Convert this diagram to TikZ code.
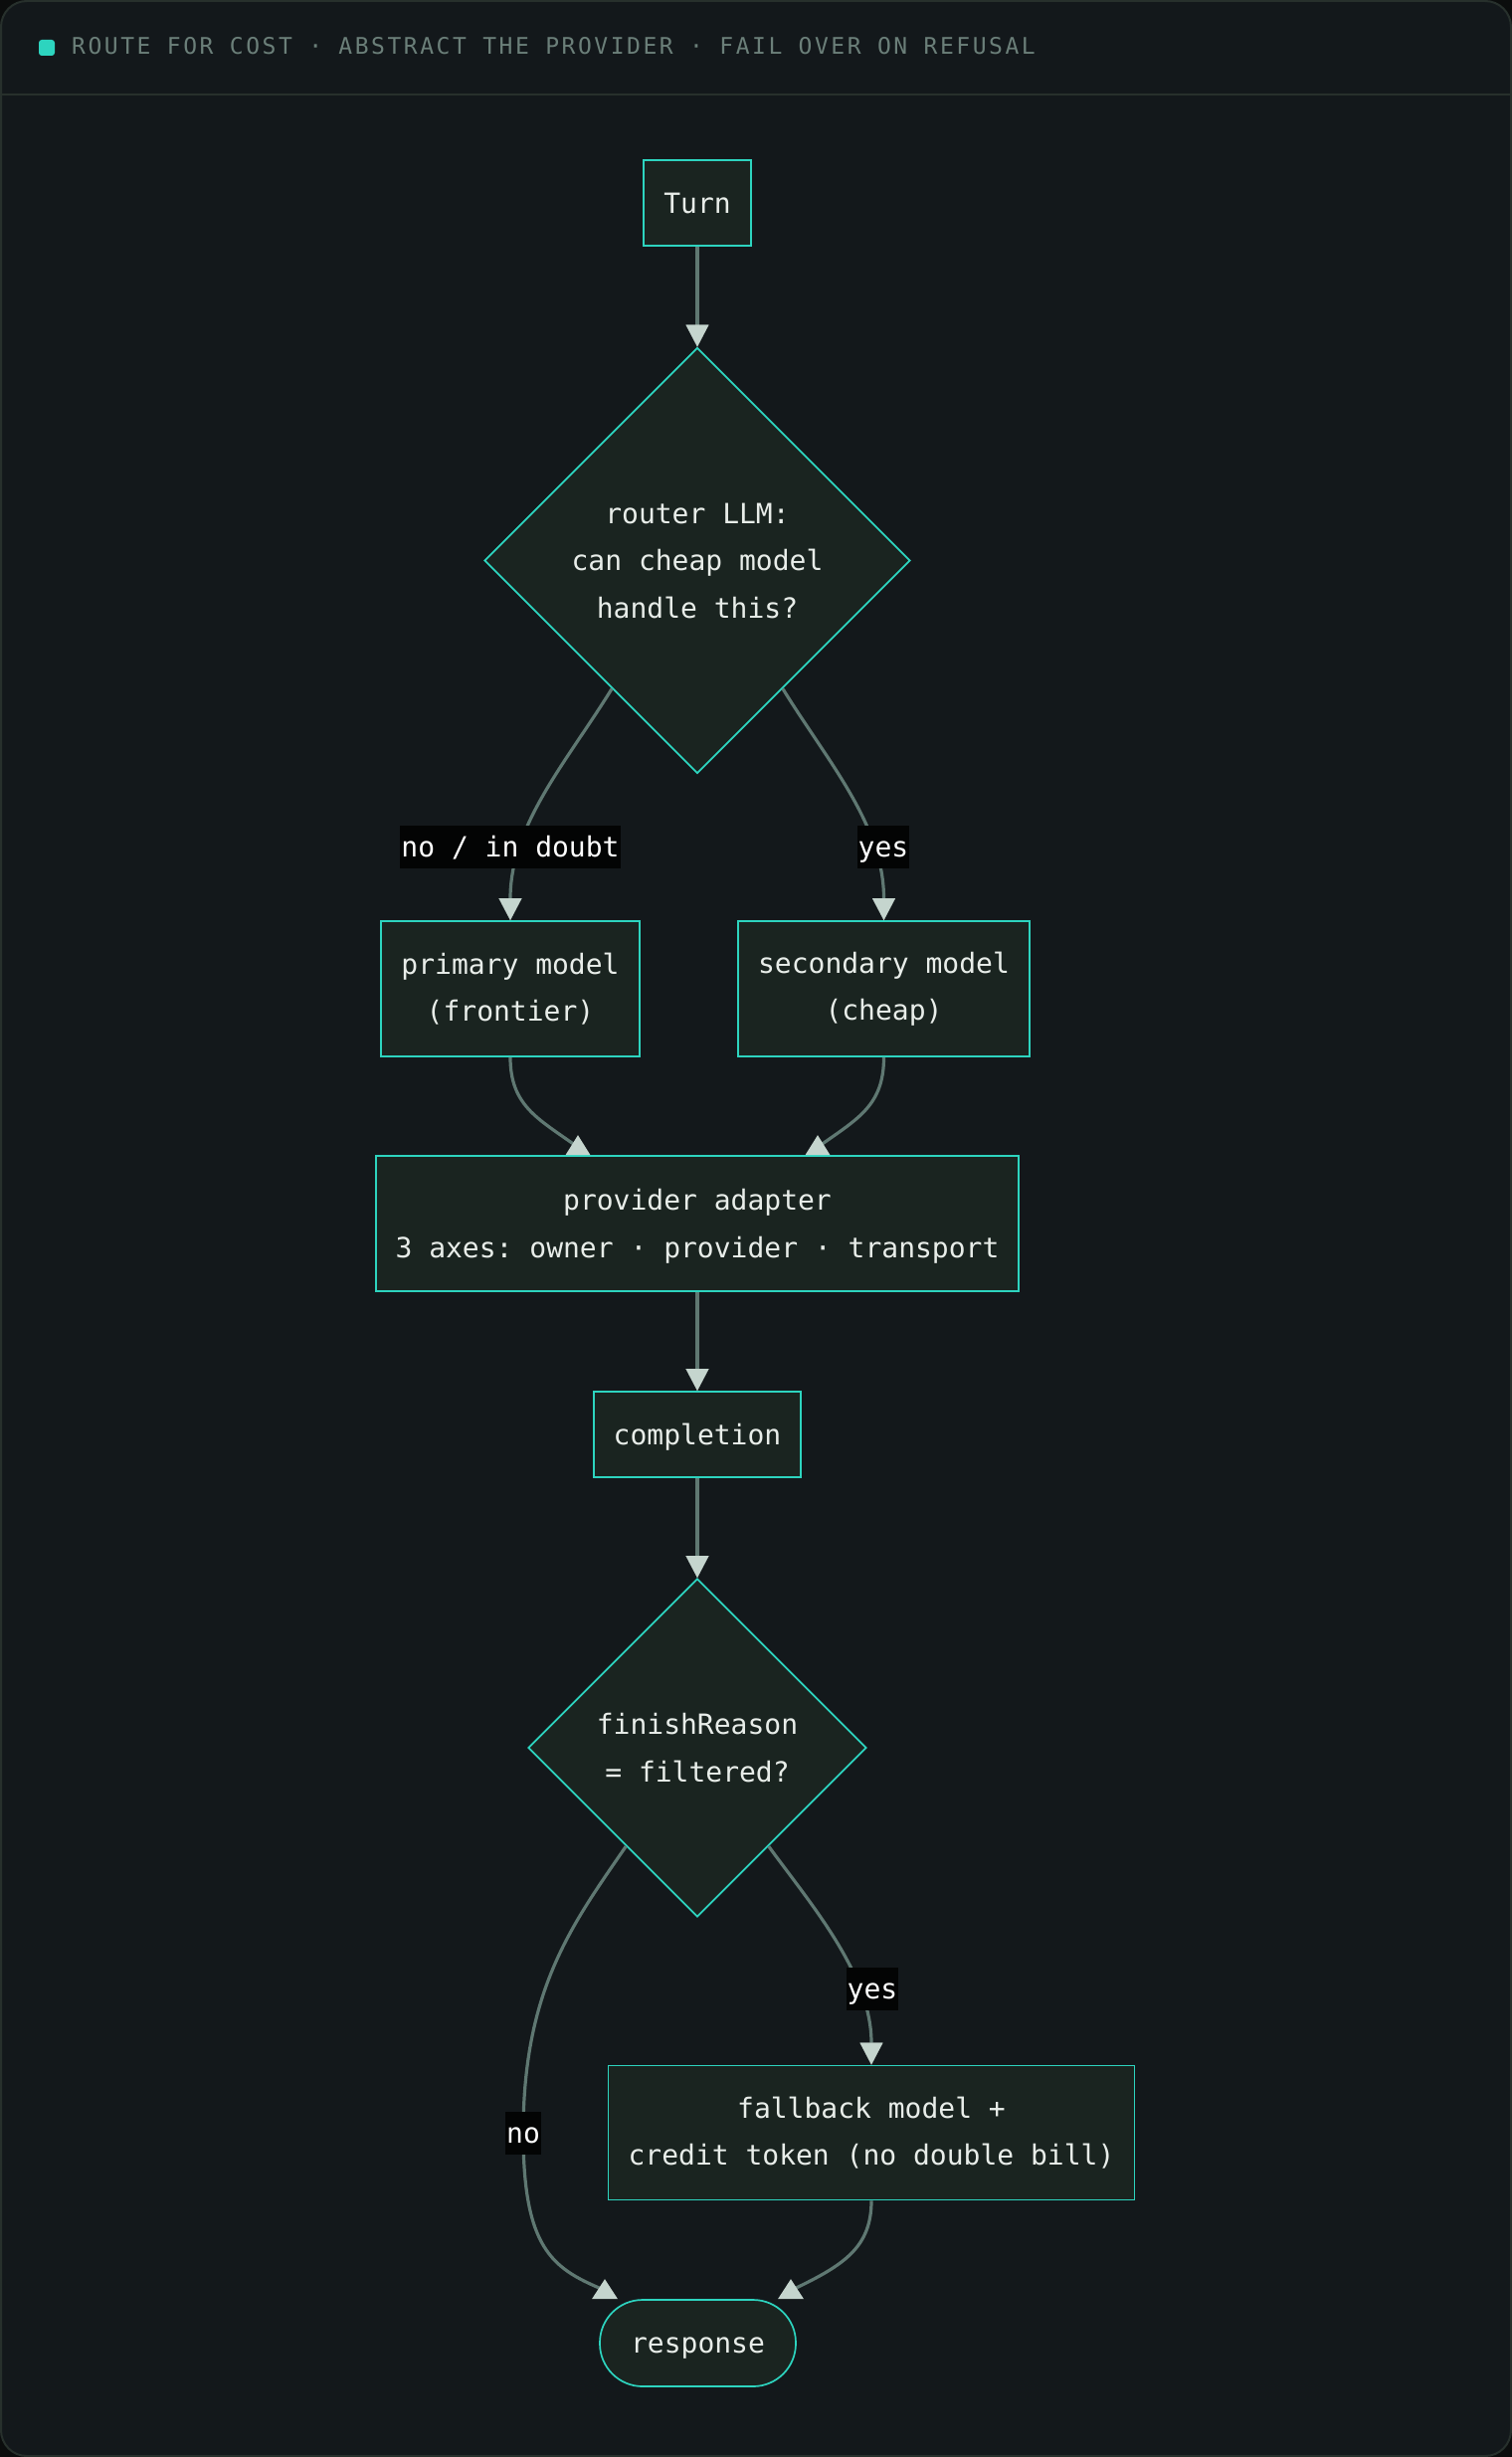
\documentclass[tikz,border=0pt]{standalone}
\usepackage{fontspec}
\setmainfont{DejaVu Sans Mono}
\newfontfamily\hdrfont[LetterSpace=11]{DejaVu Sans Mono}
\frenchspacing
\usetikzlibrary{shapes.geometric,arrows.meta,calc}
\definecolor{pagebg}{HTML}{0B0D0D}
\definecolor{framebg}{HTML}{13181B}
\definecolor{framec}{HTML}{27302C}
\definecolor{nodefill}{HTML}{1A2420}
\definecolor{tealc}{HTML}{2DD4BF}
\definecolor{linec}{HTML}{5F7872}
\definecolor{tipc}{HTML}{C5D5CE}
\definecolor{textc}{HTML}{E8EDE9}
\definecolor{hdrc}{HTML}{6B7F79}
\definecolor{labelbg}{HTML}{030404}
\tikzset{
  box/.style={rectangle, draw=tealc, line width=1.7pt, fill=nodefill, text=textc,
    font=\fontsize{28}{47.5}\selectfont\frenchspacing, align=center, inner sep=0pt},
  oneline/.style={text height=20pt, text depth=0pt},
  dia/.style={box, diamond, aspect=1},
  conn/.style={draw=linec, line width=3.2pt},
  arr/.style={conn, -{Triangle[length=22pt,width=23pt,color=tipc,fill=tipc,line width=0.1pt]}},
  uptip/.style={fill=tipc},
  lbl/.style={fill=labelbg, text=white, font=\fontsize{28}{34}\selectfont,
    inner xsep=1pt, inner ysep=0pt, minimum height=43pt, oneline},
}
\begin{document}
\begin{tikzpicture}[x=1pt,y=-1pt]
\useasboundingbox (0,0) rectangle (1520,2470);
\fill[pagebg] (0,0) rectangle (1520,2470);
\draw[framec, fill=framebg, line width=2pt, rounded corners=26pt] (1,1) rectangle (1519,2469);
\draw[framec, line width=2pt] (1,95) -- (1519,95);
\fill[tealc, rounded corners=3pt] (39,40) rectangle (55,56);
\node[anchor=base west, text=hdrc, font=\hdrfont\fontsize{23}{28}\selectfont\frenchspacing, inner sep=0pt] (hdr) at (72,55)
  {ROUTE FOR COST · ABSTRACT THE PROVIDER · FAIL OVER ON REFUSAL};

% nodes
\node[box, oneline, minimum width=108pt, minimum height=86pt] (turn) at (701,204) {Turn};
\node[dia, minimum width=428pt, minimum height=428pt] (d1) at (701,563.5) {router LLM:\\can cheap model\\handle this?};
\node[box, minimum width=260pt, minimum height=136pt] (prim) at (513,994) {primary model\\(frontier)};
\node[box, minimum width=293pt, minimum height=136pt] (sec) at (888.5,994) {secondary model\\(cheap)};
\node[box, minimum width=646pt, minimum height=136pt] (adapter) at (701,1230) {\rule{0pt}{27pt}provider adapter\\3 axes: owner · provider · transport};
\node[box, oneline, minimum width=208pt, minimum height=86pt] (comp) at (701,1442) {completion};
\node[dia, minimum width=340pt, minimum height=340pt] (d2) at (701,1757) {finishReason\\= filtered?};
\node[box, minimum width=529pt, minimum height=135pt] (fb) at (876,2144) {fallback model +\\credit token (no double bill)};
\node[box, oneline, rounded corners=43pt, minimum width=197pt, minimum height=87pt] (resp) at (701.5,2355.5) {response};

% connectors
\draw[arr] (turn.south) -- (d1.north);
\draw[arr] ($(d1.west)!0.6!(d1.south)$) .. controls +(-45,73) and +(0,-96) .. (prim.north);
\draw[arr] ($(d1.east)!0.6!(d1.south)$) .. controls +(45,73) and +(0,-96) .. (sec.north);

\coordinate (a1) at ($(adapter.north)+(-120,0)$);
\coordinate (a2) at ($(adapter.north)+(121,0)$);
\draw[conn] (prim.south) .. controls +(0,48) and +(-38,-27) .. ($(a1)+(-3,-10)$);
\draw[conn] (sec.south) .. controls +(0,48) and +(38,-27) .. ($(a2)+(3,-10)$);
\fill[uptip] (a1) ++(-12.5,0) -- ++(25,0) -- ++(-12.5,-20) -- cycle;
\fill[uptip] (a2) ++(-12.5,0) -- ++(25,0) -- ++(-12.5,-20) -- cycle;

\draw[arr] (adapter.south) -- (comp.north);
\draw[arr] (comp.south) -- (d2.north);

\coordinate (r1) at ($(resp.north)+(-93.5,0)$);
\coordinate (r2) at ($(resp.north)+(93.5,0)$);
\draw[conn] ($(d2.west)!0.58!(d2.south)$) .. controls (575,1935) and (526,2000) .. (526,2144)
  .. controls (526,2260) and (555,2280) .. ($(r1)+(-3,-10)$);
\draw[arr] ($(d2.east)!0.58!(d2.south)$) .. controls +(43,59) and +(0,-91) .. (fb.north);
\draw[conn] (fb.south) .. controls +(0,47) and +(50,-24) .. ($(r2)+(3,-10)$);
\fill[uptip] (r1) ++(-13,0) -- ++(26,0) -- ++(-13,-20) -- cycle;
\fill[uptip] (r2) ++(-13,0) -- ++(26,0) -- ++(-13,-20) -- cycle;

% labels
\node[lbl] (l1) at (513,851) {no / in doubt};
\node[lbl] (l2) at (888,851) {yes};
\node[lbl] (l3) at (877,1999) {yes};
\node[lbl] (l4) at (526,2144) {no};
\end{tikzpicture}
\end{document}
